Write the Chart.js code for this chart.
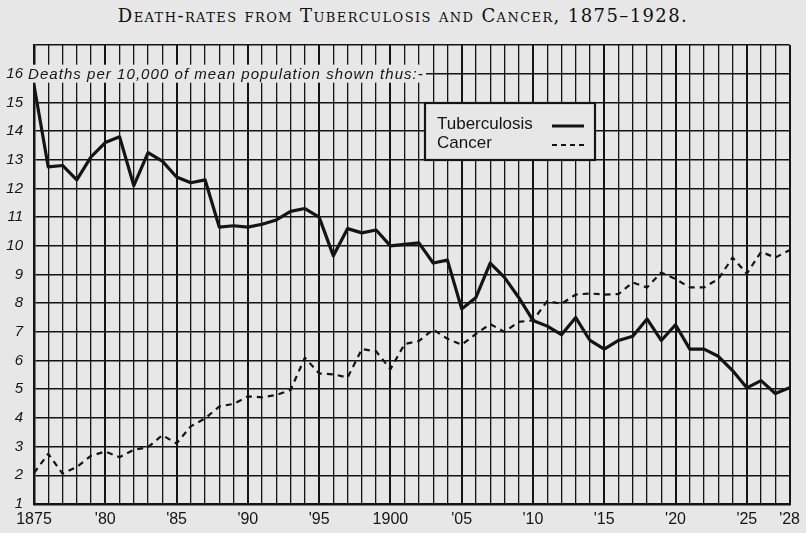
<!DOCTYPE html>
<html>
<head>
<meta charset="utf-8">
<script src="https://cdn.jsdelivr.net/npm/chart.js@4.4.1/dist/chart.umd.min.js"></script>
<style>
  html, body { margin: 0; padding: 0; background: #e7e7e7; }
  #wrap { position: relative; width: 806px; height: 533px; overflow: hidden; }
  #title {
    position: absolute; top: 5px; left: 0; width: 806px; text-align: center;
    font-family: "DejaVu Serif", "Liberation Serif", serif; font-size: 18px;
    font-variant: small-caps; letter-spacing: 1.4px; color: #0e0e0e;
  }
  canvas { position: absolute; left: 0; top: 0; }
</style>
</head>
<body>
<div id="wrap">
  <div id="title">Death-rates from Tuberculosis and Cancer, 1875–1928.</div>
  <canvas id="deathChart" width="806" height="533"></canvas>
</div>
<script>
// Deaths per 10,000 of mean population
const years = [1875, 1876, 1877, 1878, 1879, 1880, 1881, 1882, 1883, 1884,
  1885, 1886, 1887, 1888, 1889, 1890, 1891, 1892, 1893, 1894,
  1895, 1896, 1897, 1898, 1899, 1900, 1901, 1902, 1903, 1904,
  1905, 1906, 1907, 1908, 1909, 1910, 1911, 1912, 1913, 1914,
  1915, 1916, 1917, 1918, 1919, 1920, 1921, 1922, 1923, 1924,
  1925, 1926, 1927, 1928];

const tuberculosis = [15.6, 12.75, 12.8, 12.3, 13.1, 13.6, 13.8, 12.1, 13.25, 12.95,
  12.4, 12.2, 12.3, 10.65, 10.7, 10.65, 10.75, 10.9, 11.2, 11.3,
  11.0, 9.65, 10.6, 10.45, 10.55, 10.0, 10.05, 10.1, 9.4, 9.5,
  7.8, 8.2, 9.4, 8.9, 8.2, 7.4, 7.2, 6.9, 7.5, 6.7,
  6.4, 6.7, 6.85, 7.45, 6.7, 7.25, 6.4, 6.4, 6.15, 5.65,
  5.05, 5.3, 4.85, 5.05];

const cancer = [2.08, 2.75, 2.06, 2.29, 2.68, 2.83, 2.63, 2.89, 2.98, 3.4,
  3.11, 3.71, 3.98, 4.4, 4.49, 4.75, 4.72, 4.8, 4.98, 6.1,
  5.55, 5.52, 5.41, 6.4, 6.32, 5.7, 6.58, 6.68, 7.08, 6.76,
  6.55, 6.93, 7.27, 7.0, 7.35, 7.4, 8.07, 7.98, 8.3, 8.34,
  8.3, 8.32, 8.72, 8.55, 9.07, 8.84, 8.55, 8.55, 8.84, 9.59,
  9.03, 9.79, 9.59, 9.85];

// x tick labels shown under the grid
const xTickLabels = { 1875: '1875', 1880: "'80", 1885: "'85", 1890: "'90", 1895: "'95",
  1900: '1900', 1905: "'05", 1910: "'10", 1915: "'15", 1920: "'20", 1925: "'25", 1928: "'28" };
const yTickLabels = ['1', '2', '3', '4', '5', '6', '7', '8', '9', '10', '11', '12', '13', '14', '15', '16'];

const axisNote = 'Deaths per 10,000 of mean population shown thus:-';
const legendItems = [
  { label: 'Tuberculosis', dash: [] , width: 3 },
  { label: 'Cancer', dash: [5, 4], width: 2.2 }
];

const PAPER = '#e7e7e7';
const INK = '#141414';

const notesPlugin = {
  id: 'notes',
  afterDraw(chart) {
    const ctx = chart.ctx;
    const area = chart.chartArea;
    const y16 = chart.scales.y.getPixelForValue(16);

    // note along the 16 line
    ctx.save();
    ctx.font = 'italic 15px "Liberation Sans", sans-serif';
    const base = ctx.measureText(axisNote).width;
    const target = 395;
    ctx.letterSpacing = ((target - base) / (axisNote.length - 1)).toFixed(2) + 'px';
    ctx.fillStyle = PAPER;
    ctx.fillRect(area.left - 7, y16 - 9, target + 4, 18);
    ctx.fillStyle = INK;
    ctx.textBaseline = 'middle';
    ctx.fillText(axisNote, area.left - 6, y16 + 1);
    ctx.restore();

    // boxed key
    const bx = 425, by = 103, bw = 170, bh = 57;
    ctx.save();
    ctx.fillStyle = PAPER;
    ctx.fillRect(bx, by, bw, bh);
    ctx.strokeStyle = INK;
    ctx.lineWidth = 2.2;
    ctx.strokeRect(bx, by, bw, bh);
    ctx.font = '17px "Liberation Sans", sans-serif';
    ctx.fillStyle = INK;
    ctx.textBaseline = 'middle';
    legendItems.forEach((item, i) => {
      const ty = by + 21 + i * 19;
      ctx.fillText(item.label, bx + 12, ty);
      ctx.beginPath();
      ctx.setLineDash(item.dash);
      ctx.lineWidth = item.width;
      ctx.moveTo(bx + 127, ty + 2);
      ctx.lineTo(bx + 159, ty + 2);
      ctx.stroke();
    });
    ctx.restore();
  }
};

new Chart(document.getElementById('deathChart'), {
  type: 'line',
  data: {
    datasets: [
      {
        label: 'Tuberculosis',
        data: years.map((yr, i) => ({ x: yr, y: tuberculosis[i] })),
        borderColor: INK,
        borderWidth: 3.2,
        pointRadius: 0,
        tension: 0,
        borderJoinStyle: 'round'
      },
      {
        label: 'Cancer',
        data: years.map((yr, i) => ({ x: yr, y: cancer[i] })),
        borderColor: INK,
        borderWidth: 2.2,
        borderDash: [6, 5],
        pointRadius: 0,
        tension: 0
      }
    ]
  },
  options: {
    responsive: false,
    animation: false,
    layout: { padding: { top: 45, right: 9, left: 0, bottom: 0 } },
    plugins: {
      legend: { display: false },
      tooltip: { enabled: false },
      title: { display: false }
    },
    scales: {
      x: {
        type: 'linear',
        min: 1875,
        max: 1928,
        afterBuildTicks: scale => {
          scale.ticks = years.map(v => ({ value: v }));
        },
        afterFit: scale => { scale.height = 29; },
        grid: {
          drawTicks: false,
          color: INK,
          lineWidth: c => (c.tick && (c.tick.value % 5 === 0 || c.tick.value === 1928)) ? 2 : 1.3
        },
        border: { display: true, color: INK, width: 2.5 },
        ticks: {
          autoSkip: false,
          maxRotation: 0,
          padding: 6,
          color: INK,
          font: { family: '"Liberation Sans", sans-serif', size: 16 },
          callback: v => xTickLabels[v] || ''
        }
      },
      y: {
        min: 1,
        max: 17,
        afterFit: scale => { scale.width = 34; },
        grid: { drawTicks: false, color: INK, lineWidth: 1.6 },
        border: { display: true, color: INK, width: 2.5 },
        ticks: {
          stepSize: 1,
          padding: 11,
          color: INK,
          font: { family: '"Liberation Sans", sans-serif', size: 15, style: 'italic' },
          callback: v => yTickLabels[v - 1] || ''
        }
      }
    }
  },
  plugins: [notesPlugin]
});
</script>
</body>
</html>
